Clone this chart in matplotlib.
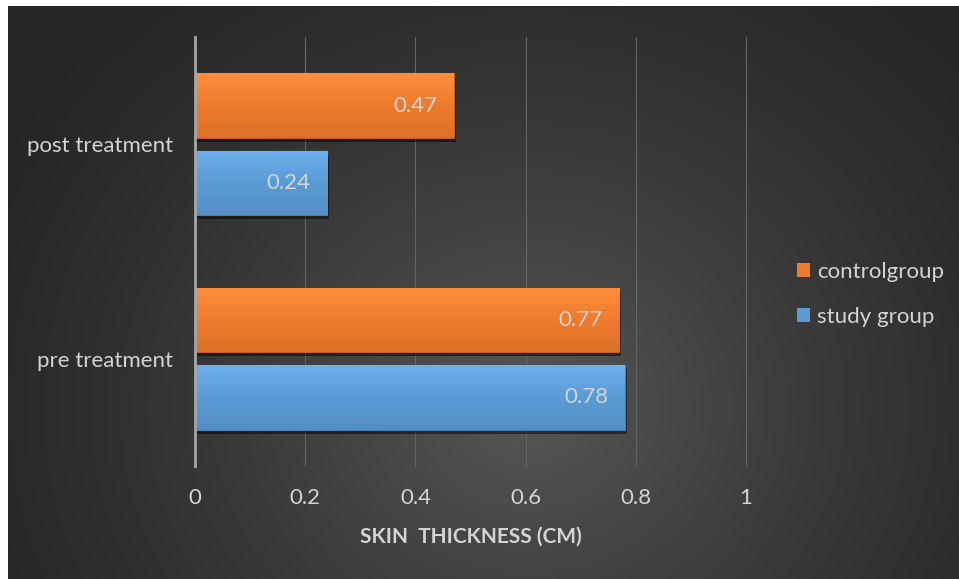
import numpy as np
import matplotlib.pyplot as plt
import matplotlib.patheffects as pe
from matplotlib.colors import LinearSegmentedColormap, to_rgb

plt.rcParams['font.family'] = ['Lato', 'DejaVu Sans']

categories = ['pre treatment', 'post treatment']
study_group = [0.78, 0.24]
control_group = [0.77, 0.47]
x_ticks = [0, 0.2, 0.4, 0.6, 0.8, 1]

text_col = '#d4d4d4'
orange = '#ef7b2c'
blue = '#5b9bd5'

fig = plt.figure(figsize=(9.59, 5.79), dpi=100)
fig.patch.set_facecolor('white')

# dark radial backdrop
bg = fig.add_axes([8 / 959, 0, 1 - 8 / 959, 1 - 6 / 579])
bg.set_axis_off()
h, w = 573, 951
yy, xx = np.mgrid[0:h, 0:w]
d = np.hypot((xx - 520) / 1.0, (yy - 400) / 0.9)
g = np.clip(1 - d / 620, 0, 1) ** 1.4
shade = 0.15 + 0.19 * g
bg.imshow(np.dstack([shade, shade, shade]), aspect='auto', extent=[0, 1, 0, 1])
bg.set_xlim(0, 1)
bg.set_ylim(0, 1)

ax = fig.add_axes([195 / 959, 113 / 579, 551 / 959, 429 / 579])
ax.set_facecolor('none')

y = np.arange(len(categories))
bh = 0.3
off = 0.18


def shaded_bars(bars, base):
    # vertical gradient over each bar, lighter on top
    c = np.array(to_rgb(base))
    cmap = LinearSegmentedColormap.from_list('b', [c * 0.92, c, np.minimum(c * 1.05 + 0.05, 1)])
    grad = np.linspace(0, 1, 64).reshape(-1, 1)
    for b in bars:
        x0, y0 = b.get_x(), b.get_y()
        im = ax.imshow(grad, cmap=cmap, aspect='auto', origin='lower',
                       extent=[x0, x0 + b.get_width(), y0, y0 + b.get_height()], zorder=3)
        im.set_clip_path(b)
        b.set_path_effects([pe.withSimplePatchShadow(offset=(1.5, -3), shadow_rgbFace='black', alpha=0.5)])


b_study = ax.barh(y - off, study_group, height=bh, color=blue, edgecolor='#3f7fbf', linewidth=0.8,
                  label='study group', zorder=2)
b_ctrl = ax.barh(y + off, control_group, height=bh, color=orange, edgecolor='#c65f1c', linewidth=0.8,
                 label='controlgroup', zorder=2)

# legend first, so its swatches stay flat
leg = ax.legend([b_ctrl, b_study], ['controlgroup', 'study group'], loc='center left',
                bbox_to_anchor=(1.056, 0.40), frameon=False, fontsize=16, handlelength=0.6,
                handleheight=0.6, handletextpad=0.3, labelspacing=1.1, labelcolor=text_col)
for hnd in leg.legend_handles:
    hnd.set_edgecolor('none')
    hnd.set_path_effects([])

shaded_bars(b_study, blue)
shaded_bars(b_ctrl, orange)

for bars, vals in [(b_study, study_group), (b_ctrl, control_group)]:
    for b, v in zip(bars, vals):
        ax.text(v - 0.03, b.get_y() + b.get_height() / 2, f'{v:.2f}', ha='right', va='center',
                color=text_col, fontsize=16, zorder=5)

ax.set_xlim(0, 1)
ax.set_ylim(-0.5, 1.5)
ax.set_xticks(x_ticks)
ax.set_xticklabels([f'{t:g}' for t in x_ticks])
ax.set_yticks(y)
ax.set_yticklabels(categories)
ax.tick_params(axis='both', length=0, colors=text_col, labelsize=16)
ax.tick_params(axis='x', pad=16)
ax.tick_params(axis='y', pad=16)
ax.grid(axis='x', color='#656565', linewidth=0.8, zorder=0)
for gl in ax.get_xgridlines():
    gl.set_clip_on(False)
ax.set_axisbelow(True)
for s in ['top', 'right', 'bottom']:
    ax.spines[s].set_visible(False)
ax.spines['left'].set_color('#a6a6a6')
ax.spines['left'].set_linewidth(2)
ax.spines['left'].set_zorder(4)

ax.set_xlabel('SKIN  THICKNESS (CM)', color=text_col, fontsize=15, fontweight='bold', labelpad=13)

fig.savefig('out.png', dpi=100, facecolor=fig.get_facecolor())
